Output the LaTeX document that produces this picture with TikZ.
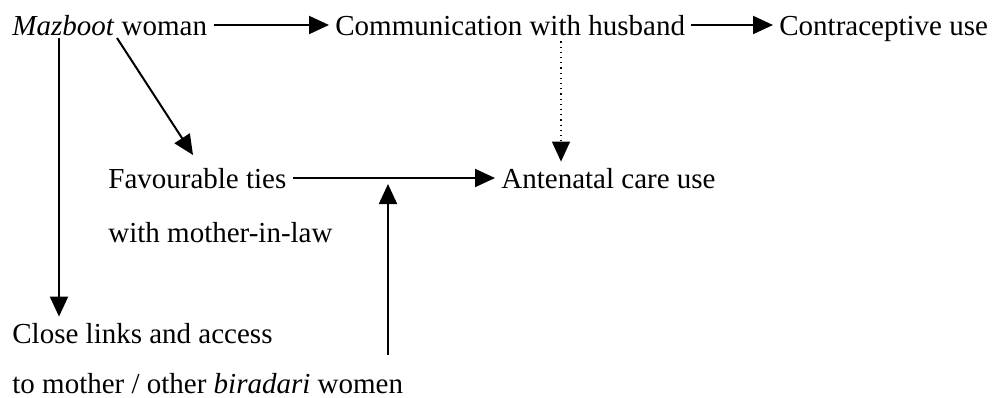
\documentclass[tikz,border=0pt]{standalone}
\usepackage{fontspec}
\setmainfont{Liberation Serif}
\usetikzlibrary{arrows.meta}

\begin{document}
\begin{tikzpicture}[>={Triangle[length=10pt,width=9pt]},x=0.5pt,y=-0.5pt,
  txt/.style={anchor=base west,inner xsep=3pt,inner ysep=2pt,text height=11pt,text depth=1pt,font=\fontsize{14.5}{17}\selectfont},
  arr/.style={->,line width=1pt}]
\useasboundingbox (0,0) rectangle (997,397);
% nodes, placed at their baselines
\node[txt] (maz) at (6,35) {\textit{Mazboot} woman};
\node[txt] (comm) at (329,35) {Communication with husband};
\node[txt] (contra) at (773,35) {Contraceptive use};
\node[txt] (fav) at (102,188) {Favourable ties};
\node[txt] (mil) at (102,242) {with mother-in-law};
\node[txt] (ante) at (495,188) {Antenatal care use};
\node[txt] (close) at (6,343) {Close links and access};
\node[txt] (tomother) at (6,393) {to mother / other \textit{biradari} women};
\coordinate (zfoot) at (59,38);
\coordinate (bootfoot) at (117,38);
\coordinate (favtip) at (193,155);
\coordinate (hx) at (561,0);
\coordinate (tie) at (388,180);
% arrows
\draw[arr] (maz.east) -- (comm.west);
\draw[arr] (comm.east) -- (contra.west);
\draw[arr] (fav.east) -- (ante.west);
\draw[arr] (bootfoot) -- (favtip);
\draw[arr] (zfoot) -- (zfoot |- close.north);
\draw[->,line width=0.6pt,dotted] (comm.south -| hx) -- (ante.north -| hx);
\draw[arr,shorten <=6pt,shorten >=2pt] (tomother.north -| tie) -- (tie);
\end{tikzpicture}
\end{document}
